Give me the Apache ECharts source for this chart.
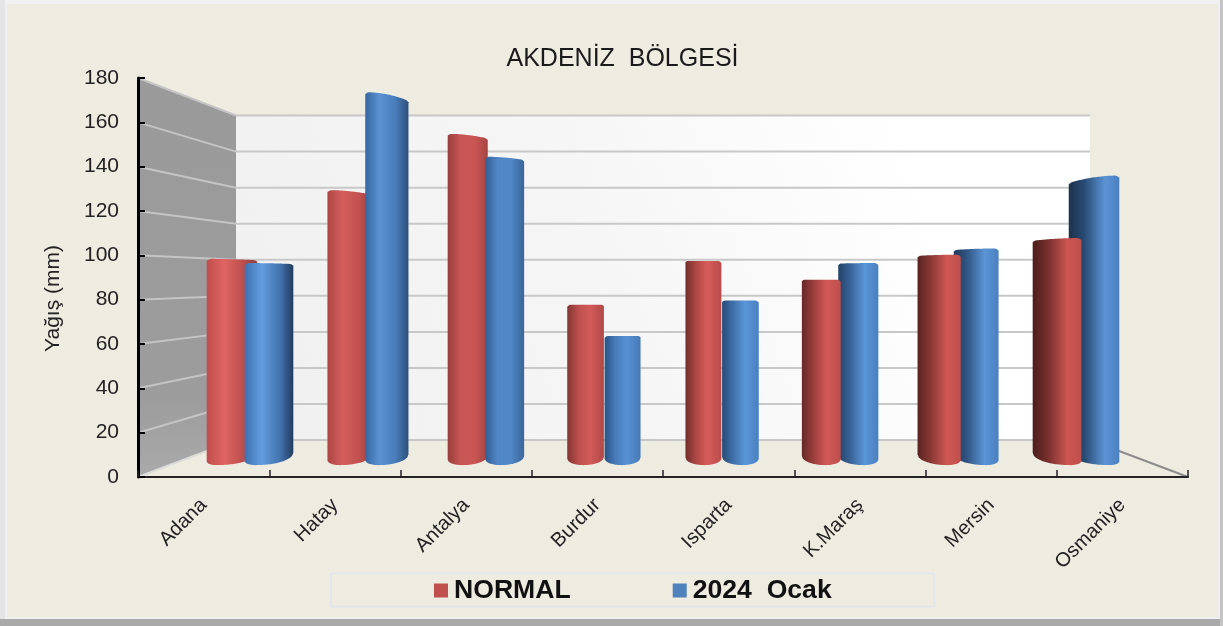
<!DOCTYPE html>
<html>
<head>
<meta charset="utf-8">
<style>html,body{margin:0;padding:0;background:#f0eff2}#c{width:1223px;height:626px}</style>
<script src="https://cdn.jsdelivr.net/npm/echarts@6/dist/echarts.min.js"></script>
</head>
<body>
<div id="c"></div>
<script>
const categories = ['Adana','Hatay','Antalya','Burdur','Isparta','K.Maraş','Mersin','Osmaniye'];
const normalValues = [99,132,159,77,98,89,101,109];
const ocakValues = [97,179,148,62,79,97,104,139];
const yTicks = [0,20,40,60,80,100,120,140,160,180];
const titleText = 'AKDENİZ  BÖLGESİ';
const yName = 'Yağış (mm)';
const seriesNames = ['NORMAL','2024  Ocak'];

const FONT = '"Liberation Sans", Arial, sans-serif';
const K_BACK = 0.8133, K_BAR = 0.898, K_FRONT = 0.94, VP_FRAC = 0.496;
const BAR_SHIFT = 18.5;

const RED = [
  {p:[0,.35,.75,1], c:['#c04e4c','#df6563','#b94c4a','#8e3a38']},
  {p:[0,.30,.60,1], c:['#75302e','#b54a48','#d85e5c','#b84c4a']},
  {p:[0,.30,.72,1], c:['#481c1a','#6f2d2b','#cb5450','#c0504d']}
];
const BLUE = [
  {p:[0,.35,.75,1], c:['#3f74b6','#66a0e2','#3f6fa9','#1e3655']},
  {p:[0,.30,.60,1], c:['#29507f','#4578b6','#5a96da','#4a80c0']},
  {p:[0,.30,.72,1], c:['#1d324d','#284a72','#5b94d5','#4b80c0']}
];

function view(params){
  const g = params.coordSys;
  return {cx: g.x + g.width/2, vy: g.y + g.height - VP_FRAC*g.height, g};
}
function proj(v, x, y, k){ return [v.cx + (x - v.cx)*k, v.vy + (y - v.vy)*k]; }

function shading(pal, u){
  const a = u < 0 ? pal[0] : pal[1], b = u < 0 ? pal[1] : pal[2];
  const t = u < 0 ? u + 1 : u;
  return a.p.map((p,i)=>({
    offset: p + (b.p[i]-p)*t,
    color: echarts.color.lerp(t, [a.c[i], b.c[i]])
  }));
}

function cylinder(pal, side, z2){
  return function(params, api){
    const v = view(params);
    const cat = api.value(0), val = api.value(1);
    const top = api.coord([cat, val]);
    const base = api.coord([cat, 0]);
    const c = v.cx + (top[0]-v.cx)*K_BAR + side*BAR_SHIFT;
    const off = c - v.cx, d = Math.abs(off), u = Math.max(-1, Math.min(1, off/430));
    const au = Math.abs(u);
    const w = 35.5 + 15*Math.pow(d/430, 1.5);
    const outerLeft = off < 0;
    const yt = v.vy + (top[1]-v.vy)*K_FRONT;
    const yb = v.vy + (base[1]-v.vy)*K_FRONT;
    const drop = Math.max(0, (v.vy-yt)/180)*13*Math.min(1,d/430)*(d<100?0.4:1);
    const L = c - w/2, R = c + w/2;
    const n = 36, pts = [];
    const corner = (s,a,span) => s < span ? a*Math.pow(1 - s/span, 2) : 0;
    const xAt = s => outerLeft ? L + w*s : R - w*s;
    const s0 = 0.5 - 0.3*au, outerRise = 7 - 3.5*au, innerRise = 7 + 6*au;
    const arc = t => 1 - Math.sqrt(Math.max(0, 1 - t*t));
    for (let i=0;i<=n;i++){
      const s = i/n;
      pts.push([xAt(s), yt + corner(s,2,.1) + corner(1-s,1.5,.08) + drop*s*s]);
    }
    for (let i=n;i>=0;i--){
      const s = i/n;
      const rise = s < s0 ? outerRise*arc((s0-s)/s0) : innerRise*arc((s-s0)/(1-s0));
      pts.push([xAt(s), yb - rise]);
    }
    return {
      type:'polygon', z2: z2(cat),
      shape:{points:pts},
      style:{fill:new echarts.graphic.LinearGradient(0,0,1,0,shading(pal,u))}
    };
  };
}

function renderWalls(params, api){
  const v = view(params), g = v.g;
  const l = g.x, r = g.x+g.width;
  const y0 = api.coord([0,yTicks[0]])[1], y1 = api.coord([0,yTicks[yTicks.length-1]])[1];
  const bl0 = proj(v,l,y0,K_BACK), bl1 = proj(v,l,y1,K_BACK), br0 = proj(v,r,y0,K_BACK), br1 = proj(v,r,y1,K_BACK);
  return {type:'group', children:[
    {type:'polygon', z2:1, shape:{points:[bl1,br1,br0,bl0]},
     style:{fill:new echarts.graphic.LinearGradient(0,1,1,0,[
       {offset:0,color:'#f0f0f0'},{offset:.45,color:'#f6f6f6'},{offset:.8,color:'#ffffff'},{offset:1,color:'#ffffff'}])}},
    {type:'polygon', z2:1, shape:{points:[[l,y1],bl1,bl0,[l,y0]]},
     style:{fill:new echarts.graphic.LinearGradient(0,0,0,1,[
       {offset:0,color:'#9a9a9a'},{offset:.8,color:'#9c9c9c'},{offset:1,color:'#aaaaaa'}])}},
    {type:'line', z2:3, shape:{x1:l,y1:y0,x2:bl0[0],y2:bl0[1]}, style:{stroke:'#dcdcd8',lineWidth:2}},
    {type:'line', z2:3, shape:{x1:bl0[0],y1:bl0[1],x2:br0[0],y2:br0[1]}, style:{stroke:'#c8c8c6',lineWidth:2}},
    {type:'line', z2:3, shape:{x1:br0[0],y1:br0[1],x2:r,y2:y0}, style:{stroke:'#8c8c8a',lineWidth:2}}
  ]};
}
function renderGrid(params, api){
  const v = view(params), g = v.g, val = api.value(0);
  if (val === 0) return null;
  const y = api.coord([0,val])[1];
  const b = proj(v,g.x,y,K_BACK), e = proj(v,g.x+g.width,y,K_BACK);
  return {type:'group', children:[
    {type:'line', z2:3, shape:{x1:g.x,y1:y,x2:b[0],y2:b[1]}, style:{stroke:'#c4c4c4',lineWidth:2}},
    {type:'line', z2:3, shape:{x1:b[0],y1:b[1],x2:e[0],y2:e[1]}, style:{stroke:'#c8c8c8',lineWidth:2}}
  ]};
}

const chart = echarts.init(document.getElementById('c'), null, {renderer:'canvas'});
chart.setOption({
  animation:false,
  backgroundColor:'#f0eff2',
  graphic:[
    {type:'rect', z:-5, shape:{x:0,y:619,width:1223,height:7}, style:{fill:'#a9a9a9'}},
    {type:'rect', z:-5, shape:{x:1220,y:0,width:3,height:626}, style:{fill:'#c4c4c4'}},
    {type:'rect', z:-5, shape:{x:0,y:0,width:5,height:619}, style:{fill:'#e4e4e6'}},
    {type:'rect', z:-4, shape:{x:7,y:4,width:1211,height:613}, style:{fill:'#eeebe0'}},
    {type:'rect', z:-3, shape:{x:331,y:573.5,width:603,height:33}, style:{fill:'none',stroke:'#dfe6ee',lineWidth:1.5}}
  ],
  title:{text:titleText, left:617.5, top:42, textAlign:'center',
    textStyle:{fontFamily:FONT,fontSize:25,fontWeight:'normal',color:'#1a1a1a'}},
  grid:{left:138,right:35,top:78,bottom:149,containLabel:false},
  legend:{left:429,top:572,itemWidth:14,itemHeight:14,itemGap:102,icon:'rect',
    data:seriesNames,selectedMode:false,
    textStyle:{fontFamily:FONT,fontSize:26.6,fontWeight:'bold',color:'#111',padding:[0,0,0,1]}},
  xAxis:{type:'category',data:categories,z:10,boundaryGap:true,
    axisLine:{show:true,lineStyle:{color:'#222',width:2}},
    axisTick:{show:true,alignWithLabel:false,interval:0,inside:true,length:7,lineStyle:{color:'#222',width:1.5}},
    axisLabel:{rotate:45,margin:25,interval:0,fontFamily:FONT,fontSize:20,color:'#222'}},
  yAxis:{type:'value',min:0,max:180,interval:20,z:10,
    name:yName,nameLocation:'middle',nameGap:74,nameRotate:90,
    nameTextStyle:{fontFamily:FONT,fontSize:21,color:'#222',padding:[0,42,0,0]},
    splitLine:{show:false},
    axisLine:{show:true,lineStyle:{color:'#000',width:3}},
    axisTick:{show:true,inside:true,length:7,lineStyle:{color:'#000',width:2}},
    axisLabel:{margin:19,fontFamily:FONT,fontSize:21,color:'#222',padding:[2,0,0,0]}},
  series:[
    {type:'custom',name:'walls',coordinateSystem:'cartesian2d',silent:true,clip:false,
     data:[[0,0]],encode:{x:0,y:1},renderItem:renderWalls},
    {type:'custom',name:'gridlines',coordinateSystem:'cartesian2d',silent:true,clip:false,
     data:yTicks.map(t=>[t]),encode:{y:0},renderItem:renderGrid},
    {type:'custom',name:seriesNames[0],coordinateSystem:'cartesian2d',clip:false,
     itemStyle:{color:'#c0504d'},
     data:normalValues.map((v,i)=>[i,v]),encode:{x:0,y:1},
     renderItem:cylinder(RED,-1,i=> i < categories.length/2 ? 10 : 20)},
    {type:'custom',name:seriesNames[1],coordinateSystem:'cartesian2d',clip:false,
     itemStyle:{color:'#4f81bd'},
     data:ocakValues.map((v,i)=>[i,v]),encode:{x:0,y:1},
     renderItem:cylinder(BLUE,1,()=>15)}
  ]
});
</script>
</body>
</html>
